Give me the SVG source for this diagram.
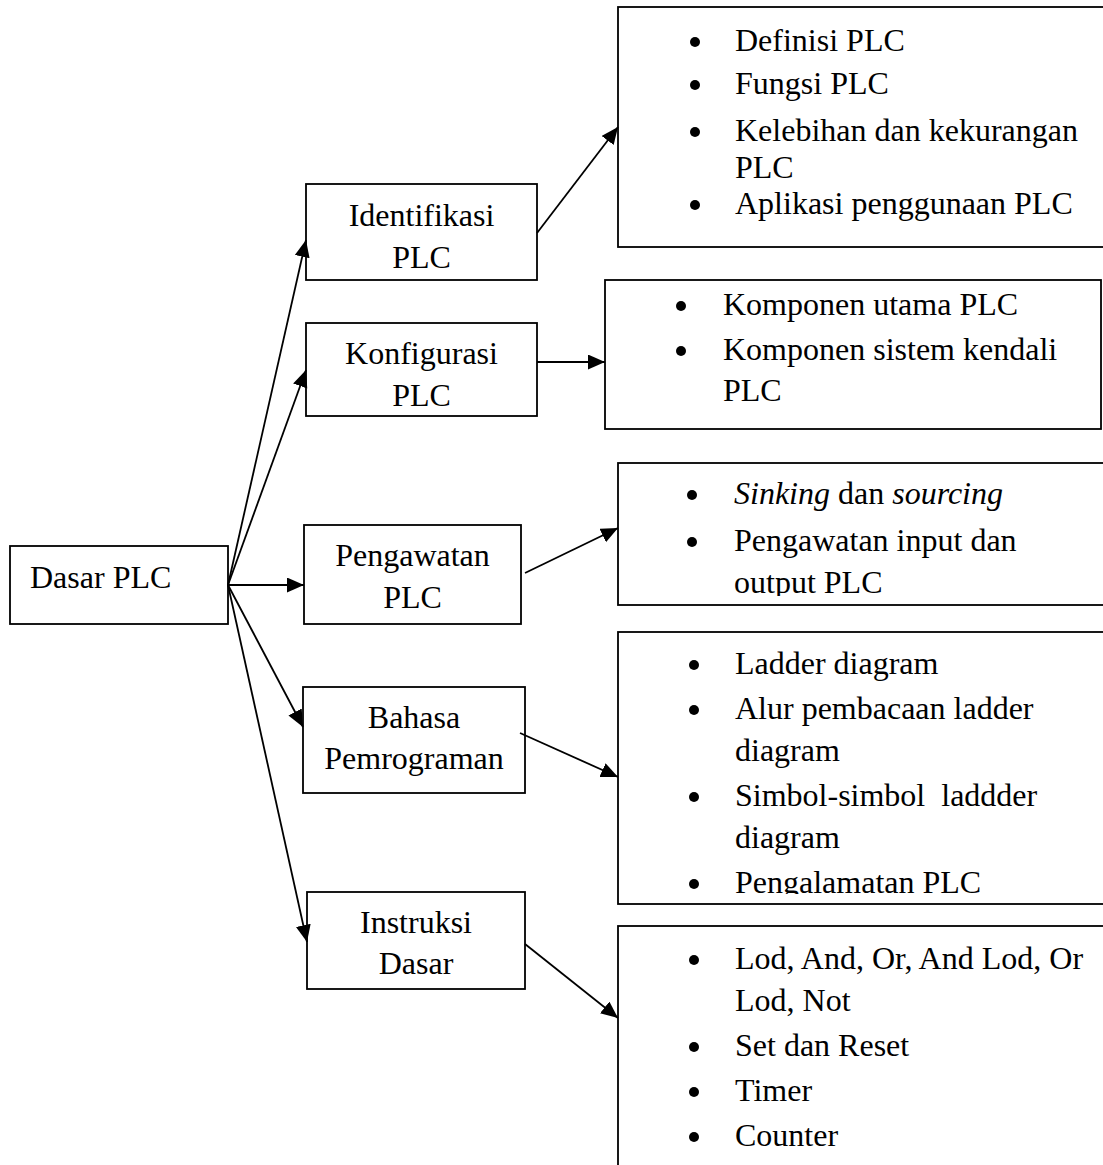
<svg xmlns="http://www.w3.org/2000/svg" width="1103" height="1165" viewBox="0 0 1103 1165">
<style>
.box{fill:#fff;stroke:#000;stroke-width:1.8}
.t{font-family:"Liberation Serif","Times New Roman",serif;font-size:32px;fill:#000}
.c{text-anchor:middle}
.con{stroke:#000;stroke-width:1.8;fill:none;marker-end:url(#ah)}
.b{fill:#000}
</style>
<defs>
<marker id="ah" markerUnits="userSpaceOnUse" markerWidth="18" markerHeight="16" refX="17" refY="7.5" orient="auto">
<path d="M0,0 L17,7.5 L0,15 z" fill="#000"/>
</marker>
<clipPath id="clip3"><rect x="618" y="463" width="500" height="133"/></clipPath>
<clipPath id="clip4"><rect x="618" y="632" width="500" height="262"/></clipPath>
</defs>
<rect width="1103" height="1165" fill="#fff"/>

<g id="dasar">
<rect class="box" x="10" y="546" width="218" height="78"/>
<text class="t" x="30" y="588">Dasar PLC</text>
</g>

<g id="identifikasi">
<rect class="box" x="306" y="184" width="231" height="96"/>
<text class="t c" x="421.5" y="226">Identifikasi</text>
<text class="t c" x="421.5" y="268">PLC</text>
</g>

<g id="konfigurasi">
<rect class="box" x="306" y="323" width="231" height="93"/>
<text class="t c" x="421.5" y="364">Konfigurasi</text>
<text class="t c" x="421.5" y="406">PLC</text>
</g>

<g id="pengawatan">
<rect class="box" x="304" y="525" width="217" height="99"/>
<text class="t c" x="412.5" y="566">Pengawatan</text>
<text class="t c" x="412.5" y="608">PLC</text>
</g>

<g id="bahasa">
<rect class="box" x="303" y="687" width="222" height="106"/>
<text class="t c" x="414" y="728">Bahasa</text>
<text class="t c" x="414" y="769">Pemrograman</text>
</g>

<g id="instruksi">
<rect class="box" x="307" y="892" width="218" height="97"/>
<text class="t c" x="416" y="933">Instruksi</text>
<text class="t c" x="416" y="974">Dasar</text>
</g>

<g id="box-identifikasi">
<rect class="box" x="618" y="7" width="500" height="240"/>
<circle class="b" cx="695" cy="42" r="5"/>
<text class="t" x="735" y="51">Definisi PLC</text>
<circle class="b" cx="695" cy="85" r="5"/>
<text class="t" x="735" y="94">Fungsi PLC</text>
<circle class="b" cx="695" cy="132" r="5"/>
<text class="t" x="735" y="141">Kelebihan dan kekurangan</text>
<text class="t" x="735" y="178">PLC</text>
<circle class="b" cx="695" cy="205" r="5"/>
<text class="t" x="735" y="214">Aplikasi penggunaan PLC</text>
</g>

<g id="box-konfigurasi">
<rect class="box" x="605" y="280" width="496" height="149"/>
<circle class="b" cx="681" cy="306" r="5"/>
<text class="t" x="723" y="315">Komponen utama PLC</text>
<circle class="b" cx="681" cy="351" r="5"/>
<text class="t" x="723" y="360">Komponen sistem kendali</text>
<text class="t" x="723" y="401">PLC</text>
</g>

<g id="box-pengawatan">
<rect class="box" x="618" y="463" width="500" height="142"/>
<g clip-path="url(#clip3)">
<circle class="b" cx="692" cy="495" r="5"/>
<text class="t" x="734" y="504"><tspan font-style="italic">Sinking</tspan> dan <tspan font-style="italic">sourcing</tspan></text>
<circle class="b" cx="692" cy="542" r="5"/>
<text class="t" x="734" y="551">Pengawatan input dan</text>
<text class="t" x="734" y="593">output PLC</text>
</g>
</g>

<g id="box-bahasa">
<rect class="box" x="618" y="632" width="500" height="272"/>
<g clip-path="url(#clip4)">
<circle class="b" cx="694" cy="665" r="5"/>
<text class="t" x="735" y="674">Ladder diagram</text>
<circle class="b" cx="694" cy="710" r="5"/>
<text class="t" x="735" y="719">Alur pembacaan ladder</text>
<text class="t" x="735" y="761">diagram</text>
<circle class="b" cx="694" cy="797" r="5"/>
<text class="t" x="735" y="806" xml:space="preserve" style="white-space:pre">Simbol-simbol  laddder</text>
<text class="t" x="735" y="848">diagram</text>
<circle class="b" cx="694" cy="884" r="5"/>
<text class="t" x="735" y="893">Pengalamatan PLC</text>
</g>
</g>

<g id="box-instruksi">
<rect class="box" x="618" y="926" width="500" height="300"/>
<circle class="b" cx="694" cy="960" r="5"/>
<text class="t" x="735" y="969">Lod, And, Or, And Lod, Or</text>
<text class="t" x="735" y="1011">Lod, Not</text>
<circle class="b" cx="694" cy="1047" r="5"/>
<text class="t" x="735" y="1056">Set dan Reset</text>
<circle class="b" cx="694" cy="1092" r="5"/>
<text class="t" x="735" y="1101">Timer</text>
<circle class="b" cx="694" cy="1137" r="5"/>
<text class="t" x="735" y="1146">Counter</text>
</g>

<g id="connectors">
<line class="con" x1="228" y1="585" x2="306" y2="240"/>
<line class="con" x1="228" y1="585" x2="306" y2="370"/>
<line class="con" x1="228" y1="585" x2="304" y2="585"/>
<line class="con" x1="228" y1="585" x2="303" y2="727"/>
<line class="con" x1="228" y1="585" x2="307" y2="942"/>
<line class="con" x1="537" y1="233" x2="618" y2="127"/>
<line class="con" x1="537" y1="362" x2="605" y2="362"/>
<line class="con" x1="525" y1="573" x2="618" y2="528"/>
<line class="con" x1="520" y1="733" x2="618" y2="777"/>
<line class="con" x1="525" y1="944" x2="618" y2="1018"/>
</g>
</svg>
